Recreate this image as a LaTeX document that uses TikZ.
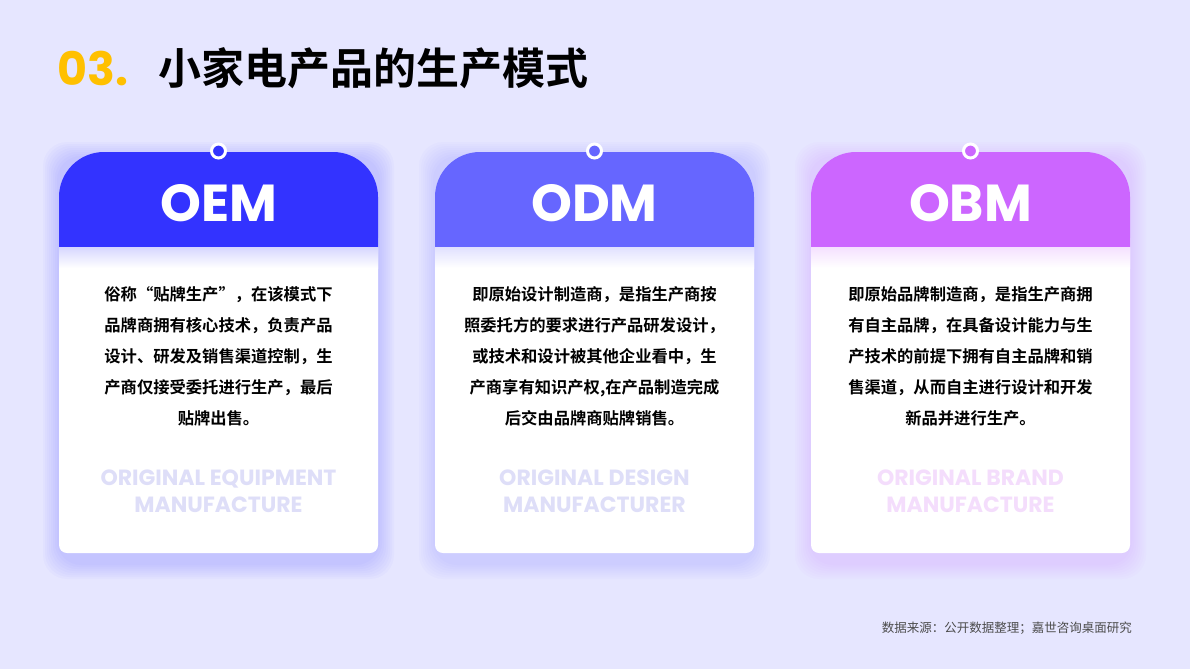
\documentclass[tikz,border=0pt]{standalone}
\usepackage{fontspec}
\setmainfont{Poppins}
\newfontfamily\cjk{Noto Sans CJK SC}
\newfontfamily\cjkb{Noto Sans CJK SC Bold}
\newfontfamily\pop[UprightFont={* Bold}]{Poppins}
\definecolor{bg}{HTML}{E6E6FF}
\definecolor{cA}{HTML}{3333FF}
\definecolor{cB}{HTML}{6666FF}
\definecolor{cC}{HTML}{CC66FF}
\definecolor{wA}{HTML}{DEDEF8}
\definecolor{wC}{HTML}{F4DDFC}
\definecolor{gold}{HTML}{FFC000}
\tikzset{
 bodytxt/.style={align=center,font=\cjkb\fontsize{16.3}{31}\selectfont,text=black},
 headtxt/.style={font=\pop\fontsize{52}{52}\selectfont,text=white},
 marktxt/.style={align=center,font=\pop\fontsize{22}{27}\selectfont},
}
\newcommand{\card}[5]{%
 \begin{scope}[shift={(#1,0)}]
  \foreach \i in {16,14,...,2}{
   \fill[#2,opacity=0.025,rounded corners=24] (-\i,152-\i+6) rectangle (319+\i,553+\i+10);}
  \fill[white,rounded corners=8] (0,230) rectangle (319,553);
  \fill[#2] (0,247) [rounded corners=45]-- (0,152) -- (319,152) [sharp corners]-- (319,247) -- cycle;
  \shade[top color=#2!20!white,bottom color=white] (0,247) rectangle (319,268);
  \node[headtxt] (#3h) at (159.5,203) {#4};
  \node[bodytxt,anchor=north] (#3b) at (159.5,283) {#5};
  \node[draw=white,line width=3pt,fill=#2,circle,minimum size=14pt,inner sep=0] (#3c) at (159.5,151) {};
 \end{scope}}
\begin{document}
\begin{tikzpicture}[x=1pt,y=-1pt]
\fill[bg] (0,0) rectangle (1190,669);
\useasboundingbox (0,0) rectangle (1190,669);
\node[anchor=west,inner sep=0,text=gold,font=\pop\fontsize{46}{46}\selectfont] (num) at (57,69) {03.};
\node[anchor=west,inner sep=0,font=\cjkb\fontsize{43}{43}\selectfont] (title) at (158,68) {小家电产品的生产模式};
\card{59}{cA}{oem}{OEM}{俗称“贴牌生产”，在该模式下\\品牌商拥有核心技术，负责产品\\设计、研发及销售渠道控制，生\\产商仅接受委托进行生产，最后\\贴牌出售。}
\card{435}{cB}{odm}{ODM}{即原始设计制造商，是指生产商按\\照委托方的要求进行产品研发设计，\\或技术和设计被其他企业看中，生\\产商享有知识产权,在产品制造完成\\后交由品牌商贴牌销售。}
\card{811}{cC}{obm}{OBM}{即原始品牌制造商，是指生产商拥\\有自主品牌，在具备设计能力与生\\产技术的前提下拥有自主品牌和销\\售渠道，从而自主进行设计和开发\\新品并进行生产。}
\node[marktxt,text=wA] (m1) at (218.5,491) {ORIGINAL EQUIPMENT\\MANUFACTURE};
\node[marktxt,text=wA] (m2) at (594.5,491) {ORIGINAL DESIGN\\MANUFACTURER};
\node[marktxt,text=wC] (m3) at (970.5,491) {ORIGINAL BRAND\\MANUFACTURE};
\node[anchor=east,inner sep=0,font=\cjk\fontsize{12.5}{13}\selectfont,text=black!70] (src) at (1132,628) {数据来源：公开数据整理；嘉世咨询桌面研究};
\end{tikzpicture}
\end{document}
